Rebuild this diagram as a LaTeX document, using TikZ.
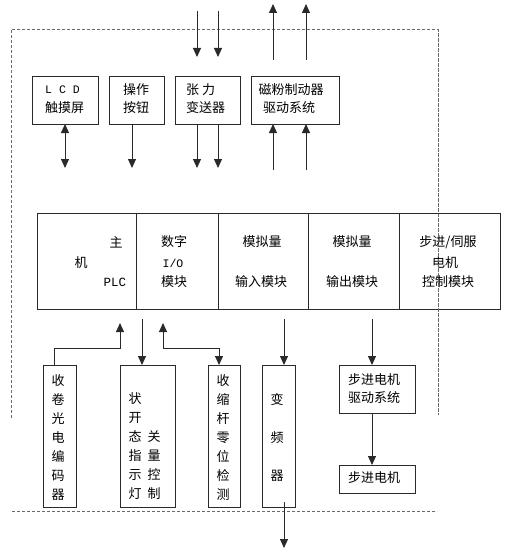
\documentclass[tikz,border=0pt]{standalone}
\usepackage{fontspec}
\setmainfont{Noto Sans CJK SC}
\newfontfamily\monof{Liberation Mono}
\usetikzlibrary{arrows.meta}
\definecolor{linec}{HTML}{2A2A2A}
\definecolor{dashc}{HTML}{6A6A6A}
\tikzset{
  box/.style={draw=linec, line width=0.9pt, inner sep=0pt, outer sep=0pt},
  txt/.style={inner sep=0pt, font=\fontsize{13}{15}\selectfont, text=black},
  lat/.style={inner sep=0pt, font=\monof\fontsize{11.5}{14}\selectfont, text=black},
  vtxt/.style={inner sep=0pt, align=center, font=\fontsize{13}{19}\selectfont, text=black},
  arr/.style={draw=linec, line width=0.9pt, -{Triangle[width=8pt,length=9pt]}},
  dbl/.style={draw=linec, line width=0.9pt, {Triangle[width=8pt,length=9pt]}-{Triangle[width=8pt,length=9pt]}},
  dsh/.style={draw=dashc, line width=0.8pt, dash pattern=on 3pt off 2pt},
}
\begin{document}
\begin{tikzpicture}[x=1pt,y=-1pt]
\useasboundingbox (0,0) rectangle (514,551);
% dashed frame
\coordinate (d1) at (11,29);
\coordinate (d2) at (438,29);
\coordinate (d3) at (11,418);
\coordinate (d4) at (438,415);
\coordinate (d5) at (12,511);
\coordinate (d6) at (437,511);
\draw[dsh] (d3) -- (d1) -- (d2) -- (d4);
\draw[dsh] (d5) -- (d6);

% top boxes
\node[box, minimum width=66pt, minimum height=48pt] (lcd) at (65,100) {};
\node[box, minimum width=55pt, minimum height=48pt] (btn) at (136.5,100) {};
\node[box, minimum width=65pt, minimum height=48pt] (ten) at (207.5,100) {};
\node[box, minimum width=88pt, minimum height=48pt] (mag) at (295,100) {};
\node[lat, anchor=west] (lcdA) at (45,90) {L C D};
\node[txt, anchor=west] (lcdB) at (45,108) {触摸屏};
\node[txt] (btnA) at (136,90) {操作};
\node[txt] (btnB) at (136,108) {按钮};
\node[txt, anchor=west] (tenA) at (186,90) {张 力};
\node[txt, anchor=west] (tenB) at (186,108) {变送器};
\node[txt] (magA) at (291,90) {磁粉制动器};
\node[txt] (magB) at (289,108) {驱动系统};

% main row
\node[box, minimum width=99pt, minimum height=96pt] (plc) at (86.5,261) {};
\node[box, minimum width=82pt, minimum height=96pt] (dio) at (177,261) {};
\node[box, minimum width=90pt, minimum height=96pt] (ain) at (263,261) {};
\node[box, minimum width=91pt, minimum height=96pt] (aout) at (353.5,261) {};
\node[box, minimum width=101pt, minimum height=96pt] (stp) at (449.5,261) {};
\node[txt] (plcA) at (116,242) {主};
\node[txt] (plcB) at (81,263) {机};
\node[lat, font=\monof\fontsize{12.5}{14}\selectfont] (plcC) at (115,282) {PLC};
\node[txt] (dioA) at (174,242) {数字};
\node[lat] (dioB) at (173,263) {I/O};
\node[txt] (dioC) at (174,282) {模块};
\node[txt] (ainA) at (262,242) {模拟量};
\node[txt] (ainB) at (261,282) {输入模块};
\node[txt] (aoutA) at (352,242) {模拟量};
\node[txt] (aoutB) at (352,282) {输出模块};
\node[txt] (stpA) at (448,242) {步进/伺服};
\node[txt] (stpB) at (445,263) {电机};
\node[txt] (stpC) at (448,282) {控制模块};
% redraw dashed line crossing main row
\draw[dsh] (d2) -- (d4);

% bottom boxes
\node[box, minimum width=33pt, minimum height=142pt] (enc) at (59.5,436) {};
\node[box, minimum width=55pt, minimum height=142pt] (ind) at (147.5,436) {};
\node[box, minimum width=32pt, minimum height=142pt] (rod) at (224,436) {};
\node[box, minimum width=33pt, minimum height=142pt] (inv) at (278.5,436) {};
\node[box, minimum width=76pt, minimum height=48pt] (drv) at (377,389) {};
\node[box, minimum width=76pt, minimum height=28pt] (mot) at (377,479) {};
\node[vtxt] (encT) at (58,437.5) {收\\卷\\光\\电\\编\\码\\器};
\node[vtxt] (indL) at (135,446.5) {状\\开\\态\\指\\示\\灯};
\node[vtxt] (indR) at (154,465.5) {关\\量\\控\\制};
\node[vtxt] (rodT) at (223,437.5) {收\\缩\\杆\\零\\位\\检\\测};
\node[vtxt, font=\fontsize{13}{38}\selectfont] (invT) at (277,437) {变\\频\\器};
\node[txt, anchor=west] (drvA) at (348,380) {步进电机};
\node[txt, anchor=west] (drvB) at (348,398) {驱动系统};
\node[txt, anchor=west] (motT) at (348,478) {步进电机};

% top connectors
\coordinate (l1) at (65,168);
\draw[dbl] (lcd.south -| l1) -- (l1);
\coordinate (b1) at (132,168);
\draw[arr] (btn.south -| b1) -- (b1);
\coordinate (t1) at (197,168);
\coordinate (t2) at (218,168);
\draw[arr] (ten.south -| t1) -- (t1);
\draw[arr] (ten.south -| t2) -- (t2);
\coordinate (t3) at (197,11);
\coordinate (t4) at (197,57);
\coordinate (t5) at (218,11);
\coordinate (t6) at (218,57);
\draw[arr] (t3) -- (t4);
\draw[arr] (t5) -- (t6);
\coordinate (m1) at (273,170);
\coordinate (m2) at (306,170);
\draw[arr] (m1) -- (mag.south -| m1);
\draw[arr] (m2) -- (mag.south -| m2);
\coordinate (m3) at (273,60);
\coordinate (m4) at (273,4);
\coordinate (m5) at (306,60);
\coordinate (m6) at (306,4);
\draw[arr] (m3) -- (m4);
\draw[arr] (m5) -- (m6);

% bottom connectors
\coordinate (e1) at (120,323);
\coordinate (e2) at (54,348);
\draw[arr] (enc.north -| e2) -- (e2) -| (e1);
\coordinate (i1) at (142,319);
\draw[arr] (i1) -- (ind.north -| i1);
\coordinate (r1) at (163,323);
\coordinate (r2) at (219,348);
\draw[dbl] (r1) |- (r2) -- (rod.north -| r2);
\coordinate (v1) at (284,319);
\draw[arr] (v1) -- (inv.north -| v1);
\coordinate (v2) at (284,502);
\coordinate (v3) at (284,548);
\draw[arr] (v2) -- (v3);
\coordinate (s1) at (372,319);
\draw[arr] (s1) -- (drv.north -| s1);
\draw[arr] (drv.south -| s1) -- (mot.north -| s1);
\end{tikzpicture}
\end{document}
